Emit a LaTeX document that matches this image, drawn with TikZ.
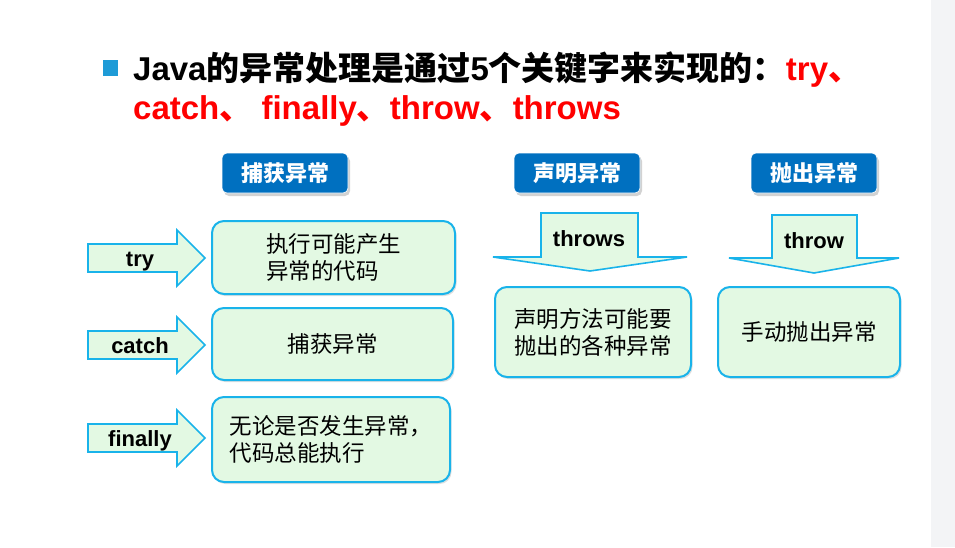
\documentclass[tikz,border=0pt]{standalone}
\usepackage{fontspec}
\setmainfont{Liberation Sans}
\newfontfamily\cjk{Noto Sans CJK SC}
\usetikzlibrary{shadows}
\definecolor{lblue}{HTML}{0070C0}
\definecolor{cyanb}{HTML}{19B3EA}
\definecolor{pgreen}{HTML}{E3F9E3}
\definecolor{bulletc}{HTML}{1E9BD7}
\definecolor{stripc}{HTML}{F3F4F6}
\begin{document}
\begin{tikzpicture}[x=1pt,y=-1pt,
  lbl/.style={draw=white, line width=0.6pt, fill=lblue, rounded corners=5pt,
    minimum width=126pt, minimum height=40pt, inner sep=0pt, text=white,
    font=\cjk\bfseries\fontsize{22}{26}\selectfont,
    drop shadow={shadow xshift=2pt, shadow yshift=-3pt, opacity=0.35}},
  gbox/.style={draw=cyanb, line width=2pt, fill=pgreen, rounded corners=12pt,
    align=left, inner sep=0pt, font=\cjk\fontsize{22.5}{27}\selectfont,
    drop shadow={shadow xshift=1.5pt, shadow yshift=-2pt, opacity=0.25}},
  arr/.style={draw=cyanb, line width=1.6pt, fill=pgreen, line join=miter},
  kw/.style={anchor=base, inner sep=0pt, font=\bfseries\fontsize{22}{26}\selectfont},
  ttl/.style={anchor=base west, inner sep=0pt, font=\bfseries\fontsize{33}{40}\selectfont}
]
\fill[white] (0,0) rectangle (955,547);
\fill[stripc] (931,0) rectangle (955,547);
\useasboundingbox (0,0) rectangle (955,547);

% title
\fill[bulletc] (103,60) rectangle (118,76);
\node[ttl] (t1) at (133,80) {Java{\cjk 的异常处理是通过}5{\cjk 个关键字来实现的：}\textcolor{red}{try{\cjk 、}}};
\node[ttl, text=red] (t2) at (133,119) {catch{\cjk 、} finally{\cjk 、}throw{\cjk 、}throws};

% category labels
\node[lbl] (c1) at (285,173) {捕获异常};
\node[lbl] (c2) at (577,173) {声明异常};
\node[lbl] (c3) at (814,173) {抛出异常};

% right arrows
\draw[arr] (88,244) -- (177,244) -- (177,230) -- (205,258) -- (177,286) -- (177,272) -- (88,272) -- cycle;
\draw[arr] (88,331) -- (177,331) -- (177,317) -- (205,345) -- (177,373) -- (177,359) -- (88,359) -- cycle;
\draw[arr] (88,424) -- (177,424) -- (177,410) -- (205,438) -- (177,466) -- (177,452) -- (88,452) -- cycle;
\node[kw] (ktry) at (140,266) {try};
\node[kw] (kcatch) at (140,353) {catch};
\node[kw] (kfin) at (140,446) {finally};

% down arrows
\draw[arr] (541,213) -- (638,213) -- (638,257) -- (687,257) -- (590,271) -- (493,257) -- (541,257) -- cycle;
\draw[arr] (772,215) -- (857,215) -- (857,258) -- (899,258) -- (814,273) -- (729,258) -- (772,258) -- cycle;
\node[kw] (kthrows) at (589,246) {throws};
\node[kw] (kthrow) at (814,248) {throw};

% boxes
\node[gbox, minimum width=243pt, minimum height=73pt] (b1) at (333.5,257.5) {执行可能产生\\异常的代码};
\node[gbox, minimum width=241pt, minimum height=72pt] (b2) at (332.5,344) {捕获异常};
\node[gbox, minimum width=238pt, minimum height=85pt] (b3) at (331,439.5) {无论是否发生异常，\\代码总能执行};
\node[gbox, minimum width=196pt, minimum height=90pt] (b4) at (593,332) {声明方法可能要\\抛出的各种异常};
\node[gbox, minimum width=182pt, minimum height=90pt] (b5) at (809,332) {手动抛出异常};
\end{tikzpicture}
\end{document}
